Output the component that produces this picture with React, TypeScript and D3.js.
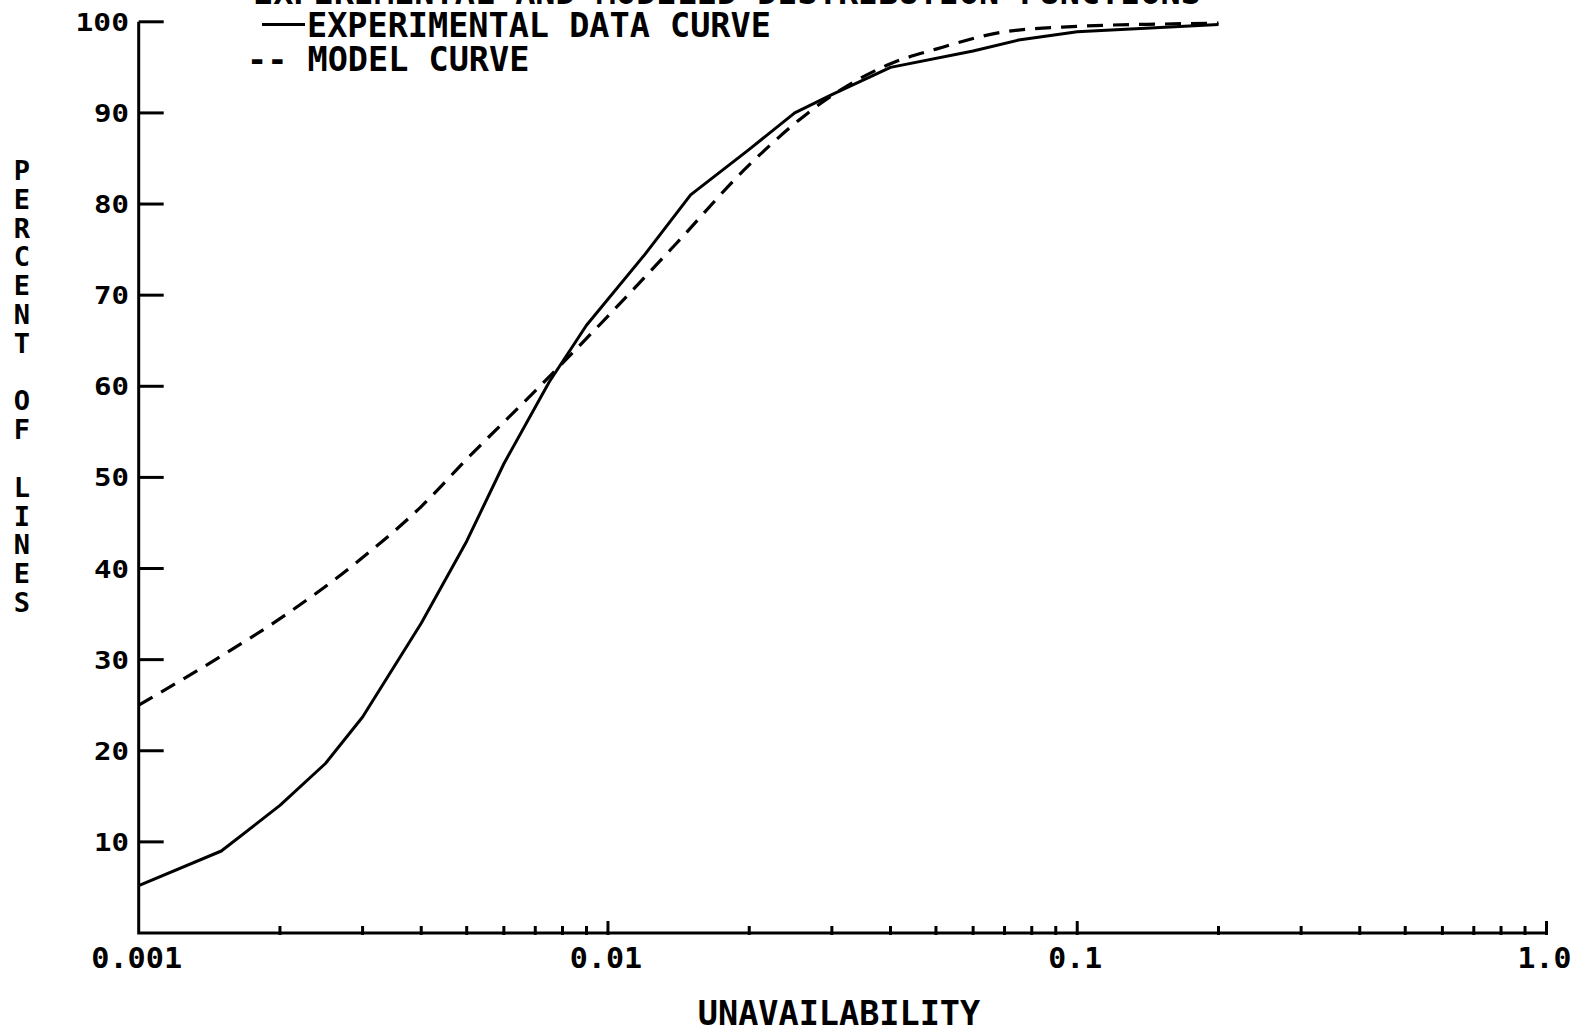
import React, { useEffect, useRef } from "react";
import * as d3 from "d3";

// experimental data curve (solid)
const expX = [0.001, 0.0015, 0.002, 0.0025, 0.003, 0.004, 0.005, 0.006, 0.0075, 0.009, 0.012, 0.015, 0.02, 0.025, 0.03, 0.04, 0.06, 0.075, 0.1, 0.2];
const expY = [5.2, 9, 14, 18.6, 23.7, 34, 43, 51.5, 60.5, 66.7, 74.5, 81, 86, 90, 92, 95, 96.8, 98, 98.9, 99.7];

// model curve (dashed)
const modelX = [0.001, 0.0015, 0.002, 0.003, 0.004, 0.005, 0.007, 0.01, 0.014, 0.02, 0.03, 0.04, 0.05, 0.07, 0.1, 0.15, 0.2];
const modelY = [25, 30.4, 34.5, 41.2, 46.8, 52, 59.5, 67.7, 75.7, 84.3, 91.9, 95.4, 97, 98.9, 99.5, 99.75, 99.85];

const yTicks = [10, 20, 30, 40, 50, 60, 70, 80, 90, 100];
const xMajor = [0.001, 0.01, 0.1, 1];
const xLabels = ["0.001", "0.01", "0.1", "1.0"];

const TITLE = "EXPERIMENTAL AND MODELED DISTRIBUTION FUNCTIONS";
const LEGEND = ["EXPERIMENTAL DATA CURVE", "-- MODEL CURVE"];
const X_TITLE = "UNAVAILABILITY";
const Y_TITLE = "PERCENT OF LINES";

const FONT = "'DejaVu Sans Mono', monospace";

const App = () => {
  const ref = useRef<SVGSVGElement | null>(null);

  useEffect(() => {
    const svg = d3.select(ref.current);
    svg.selectAll("*").remove();

    const x = d3.scaleLog().domain([0.001, 1]).range([138.7, 1546.5]);
    const y = d3.scaleLinear().domain([0, 100]).range([933, 21.8]);
    const x0 = x(0.001), y0 = y(0);

    svg.append("rect").attr("width", 1587).attr("height", 1033).attr("fill", "#fff");

    // axes
    svg.append("path")
      .attr("d", `M${x0},${y(100)}V${y0}H${x(1)}`)
      .attr("fill", "none").attr("stroke", "#000").attr("stroke-width", 3);

    // y ticks go inward, labels on the left
    svg.selectAll(".yt").data(yTicks).join("line")
      .attr("x1", x0).attr("x2", x0 + 25)
      .attr("y1", d => y(d)).attr("y2", d => y(d))
      .attr("stroke", "#000").attr("stroke-width", 3);

    svg.selectAll(".yl").data(yTicks).join("text")
      .attr("x", 129).attr("y", d => y(d) + 9)
      .attr("text-anchor", "end")
      .attr("font-family", FONT).attr("font-weight", "bold").attr("font-size", 25)
      .attr("textLength", d => String(d).length * 18.5 - 2)
      .attr("lengthAdjust", "spacingAndGlyphs")
      .text(d => d);

    // x ticks: minor 2..9 per decade, taller at decades
    const minor: number[] = [];
    [0.001, 0.01, 0.1].forEach(dec => d3.range(2, 10).forEach(k => minor.push(dec * k)));
    svg.selectAll(".xm").data(minor).join("line")
      .attr("x1", d => x(d)).attr("x2", d => x(d))
      .attr("y1", y0 - 7).attr("y2", y0 + 2)
      .attr("stroke", "#000").attr("stroke-width", 3);
    svg.selectAll(".xM").data(xMajor.slice(1)).join("line")
      .attr("x1", d => x(d)).attr("x2", d => x(d))
      .attr("y1", y0 - 12).attr("y2", y0 + 2)
      .attr("stroke", "#000").attr("stroke-width", 3);

    svg.selectAll(".xl").data(xMajor).join("text")
      .attr("x", d => x(d) - 2).attr("y", 968)
      .attr("text-anchor", "middle")
      .attr("font-family", FONT).attr("font-weight", "bold").attr("font-size", 29)
      .attr("textLength", (d, i) => xLabels[i].length * 18.6 - 2)
      .attr("lengthAdjust", "spacingAndGlyphs")
      .text((d, i) => xLabels[i]);

    // axis titles
    svg.append("text")
      .attr("x", 839).attr("y", 1025)
      .attr("text-anchor", "middle")
      .attr("font-family", FONT).attr("font-weight", "bold").attr("font-size", 33.5)
      .text(X_TITLE);

    // stacked upright letters
    svg.selectAll(".ylet").data(Y_TITLE.split("")).join("text")
      .attr("x", 22).attr("y", (d, i) => 170 + i * 28.8 + 10)
      .attr("text-anchor", "middle")
      .attr("font-family", FONT).attr("font-weight", "bold").attr("font-size", 27)
      .text(d => d);

    // title, mostly cut off by the page top
    svg.append("text")
      .attr("x", 253).attr("y", 3.5)
      .attr("font-family", FONT).attr("font-weight", "bold").attr("font-size", 33.5)
      .text(TITLE);

    // legend
    svg.append("line")
      .attr("x1", 262).attr("x2", 305).attr("y1", 24.5).attr("y2", 24.5)
      .attr("stroke", "#000").attr("stroke-width", 3);
    svg.append("text")
      .attr("x", 307).attr("y", 37)
      .attr("font-family", FONT).attr("font-weight", "bold").attr("font-size", 33.5)
      .text(LEGEND[0]);
    svg.append("text")
      .attr("x", 247).attr("y", 71)
      .attr("font-family", FONT).attr("font-weight", "bold").attr("font-size", 33.5)
      .attr("xml:space", "preserve")
      .text(LEGEND[1]);

    // curves
    const expData = expX.map((v, i) => [v, expY[i]] as [number, number]);
    const modelData = modelX.map((v, i) => [v, modelY[i]] as [number, number]);

    const lineLinear = d3.line<[number, number]>()
      .x(d => x(d[0])).y(d => y(d[1]));
    const lineSmooth = d3.line<[number, number]>()
      .x(d => x(d[0])).y(d => y(d[1]))
      .curve(d3.curveMonotoneX);

    svg.append("path")
      .attr("d", lineSmooth(modelData))
      .attr("fill", "none").attr("stroke", "#000").attr("stroke-width", 3.2)
      .attr("stroke-dasharray", "16,10");

    svg.append("path")
      .attr("d", lineLinear(expData))
      .attr("fill", "none").attr("stroke", "#000").attr("stroke-width", 3)
      .attr("stroke-linejoin", "round");
  }, []);

  return (
    <svg
      ref={ref}
      width={1587}
      height={1033}
      style={{ position: "absolute", left: 0, top: 0, display: "block" }}
    />
  );
};

export default App;
